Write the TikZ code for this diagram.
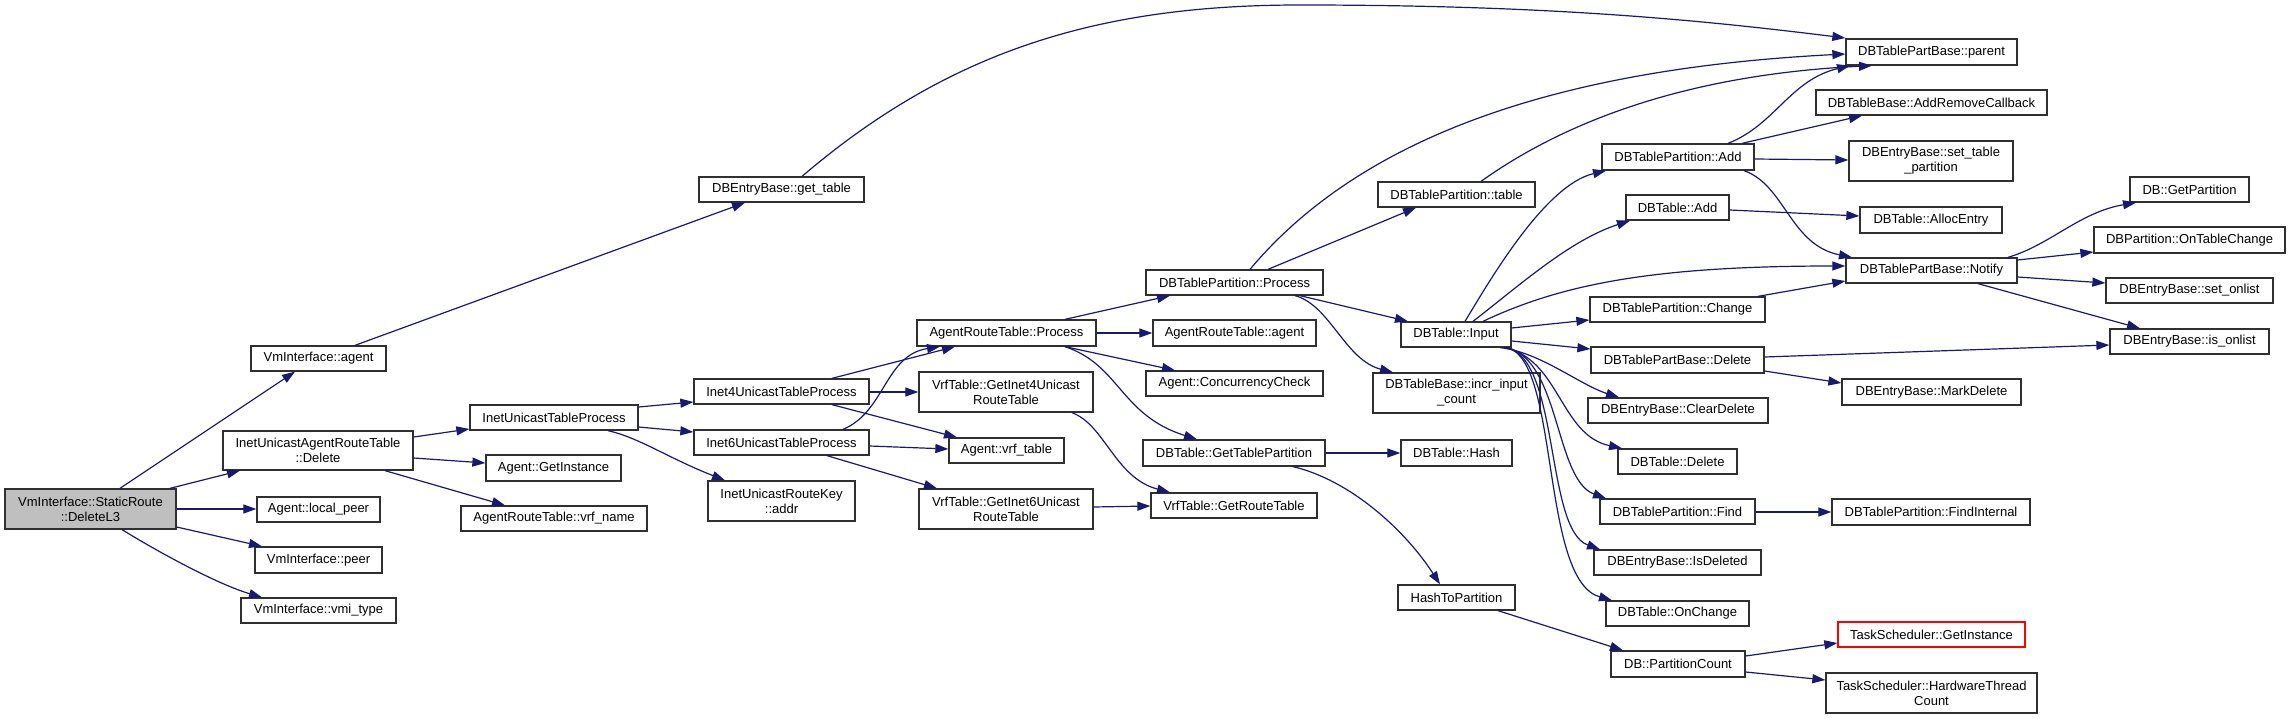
\documentclass[tikz,border=0pt]{standalone}
\usepackage{fontspec}
\setmainfont{Liberation Sans}
\usetikzlibrary{arrows.meta}
\definecolor{edgeblue}{RGB}{25,25,112}
\definecolor{boxborder}{RGB}{48,48,48}
\definecolor{rootfill}{RGB}{191,191,191}
\tikzset{
  box/.style={draw=boxborder, line width=1.3pt, fill=white, inner sep=0pt, align=center, font=\fontsize{13}{15}\selectfont},
  edge/.style={draw=edgeblue, line width=1.2pt, -{Triangle[length=13pt,width=9pt]}}
}
\newcommand\gnode[7][]{\node[box,#1,minimum width={#5-#3},minimum height={#6-#4}] (#2) at ({(#3+#5)/2},{(#4+#6)/2}) {#7};}
\begin{document}
\begin{tikzpicture}[x=1pt,y=-1pt]
\useasboundingbox (0,0) rectangle (2291,719);
\fill[white] (0,0) rectangle (2291,719);
% nodes
\gnode[fill=rootfill]{del}{5}{489}{176}{529}{VmInterface::StaticRoute\\::DeleteL3}
\gnode{agent}{251}{346}{386}{371}{VmInterface::agent}
\gnode{iuart}{223}{431}{413}{470}{InetUnicastAgentRouteTable\\::Delete}
\gnode{lpeer}{257}{497}{380}{522}{Agent::local\_peer}
\gnode{peer}{255}{547}{382}{573}{VmInterface::peer}
\gnode{vmitype}{241}{598}{396}{623}{VmInterface::vmi\_type}
\gnode{gettable}{699}{177}{864}{202}{DBEntryBase::get\_table}
\gnode{iutp}{470}{405}{638}{430}{InetUnicastTableProcess}
\gnode{aginst}{486}{455}{621}{481}{Agent::GetInstance}
\gnode{vrfname}{461}{506}{647}{531}{AgentRouteTable::vrf\_name}
\gnode{i4}{694}{379}{869}{404}{Inet4UnicastTableProcess}
\gnode{i6}{694}{430}{869}{455}{Inet6UnicastTableProcess}
\gnode{addr}{708}{481}{855}{521}{InetUnicastRouteKey\\::addr}
\gnode{arp}{917}{320}{1096}{346}{AgentRouteTable::Process}
\gnode{gi4}{919}{372}{1093}{412}{VrfTable::GetInet4Unicast\\RouteTable}
\gnode{vrft}{949}{438}{1064}{463}{Agent::vrf\_table}
\gnode{gi6}{919}{489}{1093}{529}{VrfTable::GetInet6Unicast\\RouteTable}
\gnode{dtp}{1146}{270}{1323}{295}{DBTablePartition::Process}
\gnode{aragent}{1153}{320}{1316}{346}{AgentRouteTable::agent}
\gnode{cc}{1146}{371}{1323}{396}{Agent::ConcurrencyCheck}
\gnode{gtp}{1143}{440}{1325}{466}{DBTable::GetTablePartition}
\gnode{grt}{1151}{493}{1317}{518}{VrfTable::GetRouteTable}
\gnode{dtptable}{1378}{182}{1535}{207}{DBTablePartition::table}
\gnode{input}{1401}{322}{1511}{347}{DBTable::Input}
\gnode{incr}{1373}{373}{1540}{413}{DBTableBase::incr\_input\\\_count}
\gnode{hash}{1401}{440}{1512}{466}{DBTable::Hash}
\gnode{h2p}{1398}{585}{1515}{610}{HashToPartition}
\gnode{dtpadd}{1602}{144}{1754}{170}{DBTablePartition::Add}
\gnode{dbtadd}{1626}{195}{1729}{220}{DBTable::Add}
\gnode{change}{1590}{297}{1765}{322}{DBTablePartition::Change}
\gnode{pbdel}{1591}{347}{1764}{373}{DBTablePartBase::Delete}
\gnode{cleardel}{1588}{398}{1768}{423}{DBEntryBase::ClearDelete}
\gnode{dbtdel}{1618}{449}{1737}{474}{DBTable::Delete}
\gnode{find}{1600}{499}{1755}{524}{DBTablePartition::Find}
\gnode{isdel}{1594}{550}{1761}{575}{DBEntryBase::IsDeleted}
\gnode{onchange}{1606}{601}{1749}{626}{DBTable::OnChange}
\gnode{pcount}{1611}{651}{1745}{677}{DB::PartitionCount}
\gnode{parent}{1846}{39}{2017}{65}{DBTablePartBase::parent}
\gnode{arcb}{1816}{90}{2047}{115}{DBTableBase::AddRemoveCallback}
\gnode{settp}{1849}{141}{2013}{181}{DBEntryBase::set\_table\\\_partition}
\gnode{alloc}{1860}{207}{2002}{233}{DBTable::AllocEntry}
\gnode{notify}{1846}{258}{2017}{283}{DBTablePartBase::Notify}
\gnode{markdel}{1842}{379}{2021}{405}{DBEntryBase::MarkDelete}
\gnode{findint}{1832}{499}{2030}{525}{DBTablePartition::FindInternal}
\gnode[draw=red]{tsgi}{1838}{622}{2025}{647}{TaskScheduler::GetInstance}
\gnode{hwtc}{1826}{673}{2037}{713}{TaskScheduler::HardwareThread\\Count}
\gnode{getpart}{2130}{177}{2249}{202}{DB::GetPartition}
\gnode{otc}{2094}{227}{2285}{253}{DBPartition::OnTableChange}
\gnode{setonlist}{2106}{278}{2273}{303}{DBEntryBase::set\_onlist}
\gnode{isonlist}{2110}{329}{2269}{354}{DBEntryBase::is\_onlist}
% edges
\begin{scope}[every path/.append style={edge}]
\draw (del.north -| 120,0) -- (agent.south -| 295,0);
\draw (del.north -| 170,0) -- (iuart.south -| 240,0);
\draw (del.east |- 0,509) -- (lpeer.west |- 0,509);
\draw (del.east |- 0,527) -- (peer.north -| 262,0);
\draw (del.south -| 122,0) .. controls (165,556) and (220,585) .. (vmitype.north -| 262,0);
\draw (agent.north -| 355,0) -- (gettable.south -| 745,0);
\draw (gettable.north -| 802,0) .. controls (950,50) and (1100,5) .. (1300,5) .. controls (1550,5) and (1700,20) .. (parent.west |- 0,38);
\draw (iuart.east |- 0,437) -- (iutp.west |- 0,429);
\draw (iuart.east |- 0,458) -- (aginst.west |- 0,463);
\draw (iuart.south -| 385,0) -- (vrfname.north -| 505,0);
\draw (iutp.east |- 0,407) -- (i4.west |- 0,402);
\draw (iutp.east |- 0,427) -- (i6.west |- 0,432);
\draw (iutp.south -| 608,0) .. controls (640,438) and (668,458) .. (addr.north -| 725,0);
\draw (i4.north -| 832,0) -- (arp.south -| 955,0);
\draw (i4.east |- 0,392) -- (gi4.west |- 0,392);
\draw (i4.south -| 832,0) -- (vrft.north -| 957,0);
\draw (i6.north -| 843,0) .. controls (885,412) and (885,355) .. (arp.south -| 940,0);
\draw (i6.east |- 0,446) -- (vrft.west |- 0,449);
\draw (i6.south -| 827,0) -- (gi6.north -| 937,0);
\draw (arp.north -| 1065,0) -- (dtp.south -| 1170,0);
\draw (arp.east |- 0,333) -- (aragent.west |- 0,333);
\draw (arp.south -| 1065,0) -- (cc.north -| 1175,0);
\draw (arp.south -| 1065,0) .. controls (1120,365) and (1120,415) .. (gtp.north -| 1197,0);
\draw (gi4.south -| 1072,0) .. controls (1105,425) and (1115,478) .. (grt.north -| 1170,0);
\draw (gi6.east |- 0,507) -- (grt.west |- 0,506);
\draw (dtp.north -| 1250,0) .. controls (1350,150) and (1530,70) .. (parent.west |- 0,54);
\draw (dtp.north -| 1268,0) -- (dtptable.south -| 1416,0);
\draw (dtp.south -| 1300,0) -- (input.north -| 1408,0);
\draw (dtp.south -| 1295,0) .. controls (1330,305) and (1345,360) .. (incr.north -| 1393,0);
\draw (dtptable.north -| 1481,0) .. controls (1560,125) and (1680,75) .. (parent.south -| 1872,0);
\draw (dtpadd.north -| 1728,0) .. controls (1775,125) and (1790,80) .. (parent.south -| 1850,0);
\draw (dtpadd.north -| 1742,0) -- (arcb.south -| 1862,0);
\draw (dtpadd.east |- 0,159) -- (settp.west |- 0,160);
\draw (dtpadd.south -| 1744,0) .. controls (1785,185) and (1790,245) .. (notify.north -| 1852,0);
\draw (dbtadd.east |- 0,210) -- (alloc.west |- 0,216);
\draw (input.north -| 1465,0) .. controls (1490,280) and (1545,185) .. (dtpadd.south -| 1606,0);
\draw (input.north -| 1473,0) .. controls (1520,285) and (1570,240) .. (dbtadd.south -| 1630,0);
\draw (input.north -| 1483,0) .. controls (1560,285) and (1650,266) .. (notify.west |- 0,266);
\draw (input.east |- 0,328) -- (change.west |- 0,320);
\draw (input.east |- 0,341) -- (pbdel.west |- 0,349);
\draw (input.south -| 1500,0) .. controls (1540,352) and (1580,385) .. (cleardel.north -| 1619,0);
\draw (input.south -| 1505,0) .. controls (1560,360) and (1560,435) .. (dbtdel.north -| 1622,0);
\draw (input.south -| 1507,0) .. controls (1560,360) and (1555,480) .. (find.north -| 1606,0);
\draw (input.south -| 1507,0) .. controls (1560,360) and (1545,530) .. (isdel.north -| 1600,0);
\draw (input.south -| 1507,0) .. controls (1560,360) and (1540,580) .. (onchange.north -| 1612,0);
\draw (change.north -| 1758,0) -- (notify.west |- 0,281);
\draw (pbdel.east |- 0,357) -- (isonlist.west |- 0,345);
\draw (pbdel.east |- 0,371) -- (markdel.west |- 0,383);
\draw (notify.north -| 2008,0) .. controls (2050,245) and (2080,212) .. (getpart.south -| 2136,0);
\draw (notify.east |- 0,260) -- (otc.west |- 0,252);
\draw (notify.east |- 0,277) -- (setonlist.west |- 0,283);
\draw (notify.south -| 1978,0) -- (isonlist.north -| 2140,0);
\draw (find.east |- 0,512) -- (findint.west |- 0,512);
\draw (gtp.east |- 0,453) -- (hash.west |- 0,453);
\draw (gtp.south -| 1293,0) .. controls (1350,480) and (1405,530) .. (h2p.north -| 1440,0);
\draw (h2p.south -| 1498,0) -- (pcount.north -| 1623,0);
\draw (pcount.east |- 0,656) -- (tsgi.west |- 0,643);
\draw (pcount.east |- 0,672) -- (hwtc.west |- 0,680);
\end{scope}
\end{tikzpicture}
\end{document}
